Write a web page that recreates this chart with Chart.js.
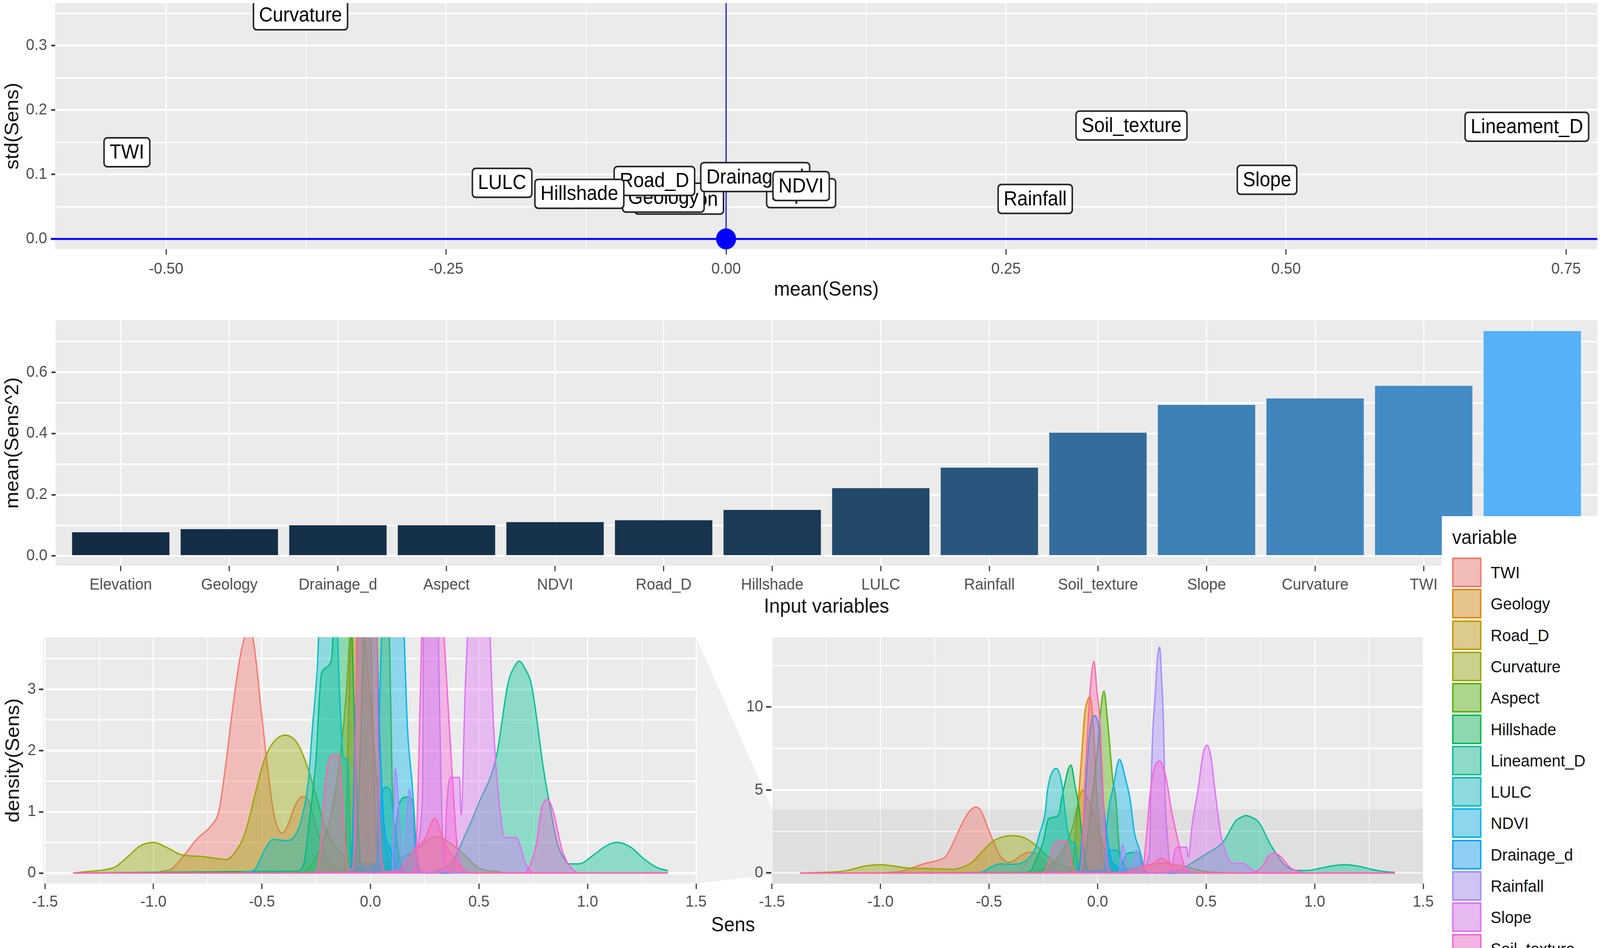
<!DOCTYPE html>
<html>
<head>
<meta charset="utf-8">
<script src="https://cdn.jsdelivr.net/npm/chart.js@4"></script>
<style>
  html, body { margin: 0; padding: 0; background: #fff; overflow: hidden; width: 100%; height: 100%; }
  #lienzo { position: absolute; left: 0; top: 0; width: 4317px; height: 2428px; overflow: hidden; transform-origin: 0 0; font-family: "Liberation Sans", Arial, sans-serif; }
  canvas { position: absolute; }
  #conector { position: absolute; left: 0; top: 0; }
  #sens { position: absolute; left: 1778px; top: 2335px; width: 400px; text-align: center; font-size: 52px; line-height: 64px; color: #111; }
  #leyenda { position: absolute; left: 3890px; top: 1322px; width: 427px; height: 1106px; background: #fff; overflow: hidden; }
  #leyenda .titulo { position: absolute; left: 28px; top: 25px; font-size: 50px; line-height: 58px; color: #111; }
  #leyenda .caja { position: absolute; left: 28px; width: 71px; height: 68px; border: 4px solid; }
  #leyenda .nombre { position: absolute; left: 132px; font-size: 43px; line-height: 50px; color: #111; white-space: nowrap; }
</style>
</head>
<body>
<div id="lienzo">
<svg id="conector" width="4317" height="2428"><polygon points="1878,1632 2081,2067 2081,2240 1878,2263" fill="#f0f0f0"/></svg>
<canvas id="grafMedia" width="4317" height="790" style="left:0;top:0"></canvas>
<canvas id="grafBarras" width="4317" height="790" style="left:0;top:800px"></canvas>
<canvas id="grafDens" width="1960" height="828" style="left:0;top:1600px"></canvas>
<canvas id="grafZoom" width="1950" height="828" style="left:1950px;top:1600px"></canvas>
<div id="sens">Sens</div>
<div id="leyenda"></div>
</div>
<script>
// La ventana puede ser mas estrecha que la imagen original: se ajusta solo en horizontal
document.querySelector('#lienzo').style.transform = `scaleX(${window.innerWidth / 4317})`;

// Panel superior: mean(Sens) contra std(Sens). El orden es el de dibujo de las etiquetas
const etiquetas = ["Curvature", "TWI", "Soil_texture", "Lineament_D", "Slope", "Rainfall", "LULC", "Elevation", "Aspect", "Geology", "Road_D", "Hillshade", "Drainage_d", "NDVI"];
const mediaSens = [-0.38, -0.535, 0.362, 0.715, 0.483, 0.276, -0.2, -0.042, 0.067, -0.056, -0.064, -0.131, 0.026, 0.067];
const stdSens = [0.347, 0.1345, 0.176, 0.174, 0.0917, 0.062, 0.087, 0.061, 0.071, 0.064, 0.09, 0.07, 0.096, 0.082];
const xMedia = [-0.5, -0.25, 0, 0.25, 0.5, 0.75];
const xMediaMenor = [-0.375, -0.125, 0.125, 0.375, 0.625];
const yMedia = [0, 0.1, 0.2, 0.3];
const yMediaMenor = [0.05, 0.15, 0.25, 0.35];

// Panel central: barras ordenadas
const barrasVariables = ["Elevation", "Geology", "Drainage_d", "Aspect", "NDVI", "Road_D", "Hillshade", "LULC", "Rainfall", "Soil_texture", "Slope", "Curvature", "TWI", "Lineament_D"];
const barrasValores = [0.077, 0.087, 0.1, 0.1, 0.11, 0.116, 0.15, 0.221, 0.288, 0.402, 0.493, 0.514, 0.555, 0.734];
const yBarras = [0, 0.2, 0.4, 0.6];
const yBarrasMenor = [0.1, 0.3, 0.5, 0.7];

// Paneles inferiores: densidades, pares [Sens, densidad]
const variables = ["TWI", "Geology", "Road_D", "Curvature", "Aspect", "Hillshade", "Lineament_D", "LULC", "NDVI", "Drainage_d", "Rainfall", "Slope", "Soil_texture", "Elevation"];
const colores = ["#F8766D", "#E38900", "#C49A00", "#99A800", "#53B400", "#00BC56", "#00C094", "#00BFC4", "#00B6EB", "#06A4FF", "#A58AFF", "#DF70F8", "#FB61D7", "#FF66A8"];

const densTWI = [[-1.37,0],[-0.99,0],[-0.96,0.03],[-0.915,0.07],[-0.861,0.28],[-0.796,0.57],[-0.73,0.79],[-0.698,1.02],[-0.665,1.82],[-0.633,2.74],[-0.6,3.54],[-0.58,3.85],[-0.565,3.96],[-0.54,3.8],[-0.502,2.61],[-0.48,1.9],[-0.448,1.02],[-0.426,0.73],[-0.408,0.65],[-0.383,0.76],[-0.35,1.08],[-0.312,1.25],[-0.285,1.18],[-0.24,0.63],[-0.2,0.23],[-0.12,0.05],[-0.05,0],[1.37,0]];
const densGeology = [[-1.37,0],[-0.14,0],[-0.12,0.1],[-0.108,1.4],[-0.095,3.47],[-0.085,5.05],[-0.073,7.15],[-0.06,9.5],[-0.047,10.37],[-0.034,10.6],[-0.017,8.2],[0,4],[0.018,1.4],[0.036,0.1],[0.06,0],[1.37,0]];
const densRoad = [[-1.37,0],[-0.32,0],[-0.26,0.2],[-0.2,0.7],[-0.15,1.6],[-0.11,3],[-0.09,4.2],[-0.07,5],[-0.05,4.6],[-0.02,3.6],[0,2.8],[0.03,1.5],[0.06,0.6],[0.1,0.15],[0.15,0],[1.37,0]];
const densCurvature = [[-1.37,0],[-1.287,0.03],[-1.23,0.05],[-1.176,0.1],[-1.12,0.26],[-1.067,0.43],[-1,0.5],[-0.937,0.415],[-0.872,0.3],[-0.774,0.27],[-0.665,0.22],[-0.62,0.36],[-0.578,0.65],[-0.535,1.24],[-0.49,1.84],[-0.448,2.13],[-0.393,2.25],[-0.339,2.13],[-0.296,1.79],[-0.263,1.42],[-0.24,1.13],[-0.21,0.76],[-0.143,0.36],[-0.08,0.2],[0.05,0.15],[0.2,0.35],[0.3,0.6],[0.4,0.4],[0.5,0.08],[0.59,0.02],[0.62,0],[1.37,0]];
const densAspect = [[-1.37,0],[-0.1,0],[-0.06,0.8],[-0.03,4],[0,7.5],[0.012,9.5],[0.029,10.95],[0.049,8.7],[0.07,5.6],[0.084,4.5],[0.1,1.47],[0.12,0.6],[0.15,0.05],[0.18,0],[1.37,0]];
const densHillshade = [[-1.37,0],[-0.339,0.03],[-0.307,0.15],[-0.285,0.76],[-0.252,1.82],[-0.225,3.27],[-0.18,3.47],[-0.165,4.5],[-0.123,6.5],[-0.104,5.26],[-0.086,4],[-0.073,2.4],[-0.06,1.05],[-0.043,0.1],[0,0.02],[0.08,0.02],[0.105,0.2],[0.13,1.1],[0.166,1.24],[0.197,1.16],[0.21,0.42],[0.227,0.05],[0.26,0],[1.37,0]];
const densLineament = [[-1.37,0],[0.26,0],[0.3,0.03],[0.38,0.2],[0.427,0.55],[0.5,1.15],[0.58,1.9],[0.634,3.1],[0.665,3.38],[0.684,3.46],[0.71,3.35],[0.743,3.05],[0.797,1.7],[0.82,1.23],[0.86,0.5],[0.895,0.22],[0.917,0.15],[0.96,0.15],[1.03,0.3],[1.08,0.43],[1.135,0.5],[1.2,0.42],[1.26,0.23],[1.32,0.09],[1.37,0.04]];
const densLULC = [[-1.37,0],[-0.6,0],[-0.578,0.02],[-0.535,0.05],[-0.49,0.36],[-0.448,0.55],[-0.393,0.53],[-0.35,0.6],[-0.317,0.89],[-0.285,1.55],[-0.268,2.35],[-0.241,3.67],[-0.23,5.05],[-0.19,6.3],[-0.165,5.4],[-0.143,3],[-0.125,1.9],[-0.104,1.8],[-0.09,0.3],[-0.06,0.1],[0.03,0.15],[0.05,1.2],[0.07,1.4],[0.09,1.35],[0.105,0.95],[0.13,0.2],[0.16,0.02],[0.2,0],[1.37,0]];
const densNDVI = [[-1.37,0],[-0.02,0],[0.03,0.2],[0.04,2.4],[0.053,4],[0.07,5.05],[0.101,6.84],[0.13,5.6],[0.149,4.5],[0.17,2.4],[0.197,1.2],[0.205,0.5],[0.22,0.05],[0.25,0],[1.37,0]];
const densDrainage = [[-1.37,0],[-0.11,0],[-0.09,0.05],[-0.073,1.9],[-0.06,4],[-0.038,8.2],[-0.017,9.47],[0.01,8.2],[0.023,5],[0.036,3],[0.06,0.9],[0.09,0.4],[0.13,0.05],[0.16,0],[1.37,0]];
const densRainfall = [[-1.37,0],[0.08,0],[0.1,0.05],[0.114,1.7],[0.135,0.8],[0.15,0.05],[0.18,1.37],[0.205,0.4],[0.24,1.26],[0.245,4.5],[0.253,8.2],[0.267,11],[0.275,12.8],[0.286,13.6],[0.294,11.9],[0.303,9.3],[0.31,5],[0.323,1.9],[0.336,0.3],[0.35,0.05],[0.38,0],[1.37,0]];
const densSlope = [[-1.37,0],[0.31,0],[0.34,0.1],[0.35,1],[0.367,1.56],[0.41,1.56],[0.418,0.95],[0.436,2.95],[0.463,5.05],[0.485,7.1],[0.504,7.7],[0.522,7],[0.54,5.05],[0.567,2.4],[0.593,1.15],[0.62,0.58],[0.67,0.58],[0.715,0.15],[0.74,0.02],[0.77,0],[1.37,0]];
const densSoil = [[-1.37,0],[0.18,0],[0.205,0.05],[0.223,1.9],[0.24,4.5],[0.258,6.1],[0.286,6.74],[0.314,5.8],[0.34,3.8],[0.375,1.7],[0.4,0.42],[0.43,0.05],[0.47,0],[0.7,0],[0.72,0.03],[0.765,0.49],[0.787,1.03],[0.815,1.2],[0.84,1.03],[0.885,0.35],[0.94,0.03],[0.97,0],[1.37,0]];
const densElevation = [[-1.37,0],[-0.27,0],[-0.243,0.05],[-0.226,0.63],[-0.208,1.47],[-0.186,1.9],[-0.147,1.93],[-0.13,1.26],[-0.117,0.42],[-0.104,0.1],[-0.09,0.05],[-0.073,0.42],[-0.069,1.9],[-0.06,5],[-0.047,8.2],[-0.034,11.05],[-0.017,12.74],[-0.003,11],[0.01,9.3],[0.023,5.6],[0.036,1.9],[0.049,0.3],[0.07,0.02],[0.13,0.05],[0.21,0.42],[0.25,0.55],[0.296,0.89],[0.34,0.5],[0.43,0.05],[0.47,0],[1.37,0]];
const densidades = [densTWI, densGeology, densRoad, densCurvature, densAspect, densHillshade, densLineament, densLULC, densNDVI, densDrainage, densRainfall, densSlope, densSoil, densElevation];

const xDens = [-1.5, -1, -0.5, 0, 0.5, 1, 1.5];
const xDensMenor = [-1.25, -0.75, -0.25, 0.25, 0.75, 1.25];
const yDens = [0, 1, 2, 3];
const yDensMenor = [0.5, 1.5, 2.5, 3.5];
const yZoom = [0, 5, 10];
const yZoomMenor = [2.5, 7.5, 12.5];
const limiteZoom = 3.85; // hasta donde llega el eje del panel izquierdo

Chart.defaults.font.family = '"Liberation Sans", Arial, sans-serif';
Chart.defaults.animation = false;
Chart.defaults.responsive = false;
Chart.defaults.devicePixelRatio = 1;
Chart.defaults.events = [];
Chart.defaults.layout.autoPadding = false; // si no, el punto azul encoge el panel
Chart.defaults.plugins.legend.display = false;
Chart.defaults.plugins.tooltip.enabled = false;

const fondoGris = {
    id: 'fondoGris',
    beforeDraw(chart) {
        const a = chart.chartArea;
        chart.ctx.fillStyle = '#ebebeb';
        chart.ctx.fillRect(a.left, a.top, a.right - a.left, a.bottom - a.top);
    }
};

// Eje con lineas mayores y menores al estilo ggplot
function ejeNumerico(o) {
    const esX = o.eje === 'x';
    const mayores = o.mayores;
    const esMayor = v => mayores.includes(v);
    return {
        type: 'linear',
        min: o.min,
        max: o.max,
        offset: false,
        afterBuildTicks(s) {
            s.ticks = mayores.concat(o.menores).sort((a, b) => a - b).map(v => ({ value: v }));
        },
        afterFit(s) {
            if (esX) s.height = o.tam; else s.width = o.tam;
            s.paddingLeft = s.paddingRight = s.paddingTop = s.paddingBottom = 0;
        },
        border: { display: false },
        grid: {
            offset: false,
            color: '#ffffff',
            lineWidth: c => c.tick && esMayor(c.tick.value) ? (esX ? 3 : 5) : (esX ? 2 : 3.5),
            tickLength: o.marca,
            tickColor: c => c.tick && esMayor(c.tick.value) ? '#333333' : 'rgba(0,0,0,0)',
            tickWidth: esX ? 3 : 4,
        },
        ticks: {
            autoSkip: false,
            maxRotation: 0,
            minRotation: 0,
            padding: o.pad,
            color: '#4d4d4d',
            font: { size: 41 },
            callback: o.texto,
        },
        title: o.titulo ? {
            display: true,
            text: o.titulo,
            color: '#111111',
            font: { size: 52 },
            padding: o.tituloPad,
        } : { display: false },
    };
}

// Etiquetas tipo geom_label
const cajasTexto = {
    id: 'cajasTexto',
    afterDatasetsDraw(chart) {
        const ctx = chart.ctx, a = chart.chartArea;
        ctx.save();
        ctx.beginPath();
        ctx.rect(a.left, a.top, a.right - a.left, a.bottom - a.top);
        ctx.clip();
        ctx.font = '51px "Liberation Sans"';
        ctx.textAlign = 'center';
        ctx.textBaseline = 'middle';
        etiquetas.forEach((t, i) => {
            const x = chart.scales.x.getPixelForValue(mediaSens[i]);
            const y = chart.scales.y.getPixelForValue(stdSens[i]);
            const w = ctx.measureText(t).width + 30;
            ctx.beginPath();
            ctx.roundRect(x - w / 2, y - 37, w, 74, 9);
            ctx.fillStyle = '#ffffff';
            ctx.fill();
            ctx.lineWidth = 4;
            ctx.strokeStyle = '#222222';
            ctx.stroke();
            ctx.fillStyle = '#000000';
            ctx.fillText(t, x, y + 2);
        });
        ctx.restore();
    }
};

new Chart(document.querySelector('#grafMedia'), {
    type: 'line',
    data: {
        datasets: [
            { data: [[0, 0]], showLine: false, pointRadius: 27, pointBackgroundColor: '#0000ff', pointBorderWidth: 0, order: 1, clip: false },
            { data: [[-0.603, 0], [0.778, 0]], borderColor: '#0000ff', borderWidth: 5, pointRadius: 0, order: 2, clip: false },
            { data: [[0, -0.0158], [0, 0.366]], borderColor: '#0000ff', borderWidth: 3, pointRadius: 0, order: 3 },
        ]
    },
    options: {
        layout: { padding: { top: 8, right: 7 } },
        scales: {
            x: ejeNumerico({ eje: 'x', min: -0.599, max: 0.778, mayores: xMedia, menores: xMediaMenor, tam: 152, marca: 14, pad: 13, titulo: 'mean(Sens)', tituloPad: { top: 0, bottom: 16 }, texto: v => xMedia.includes(v) ? v.toFixed(2) : '' }),
            y: ejeNumerico({ eje: 'y', min: -0.0158, max: 0.366, mayores: yMedia, menores: yMediaMenor, tam: 149, marca: 11, pad: 11, titulo: 'std(Sens)', tituloPad: { top: 3, bottom: 0 }, texto: v => yMedia.includes(v) ? v.toFixed(1) : '' }),
        }
    },
    plugins: [fondoGris, cajasTexto]
});

// Degradado del relleno segun el valor (de #132B43 a #56B1F7)
function colorBarra(v) {
    const t = (v - barrasValores[0]) / (barrasValores[barrasValores.length - 1] - barrasValores[0]);
    const r = Math.round(19 + (86 - 19) * t), g = Math.round(43 + (177 - 43) * t), b = Math.round(67 + (247 - 67) * t);
    return `rgb(${r},${g},${b})`;
}

new Chart(document.querySelector('#grafBarras'), {
    type: 'bar',
    data: {
        datasets: [{
            data: barrasValores.map((v, i) => ({ x: i, y: v })),
            backgroundColor: barrasValores.map(colorBarra),
            barThickness: 262,
        }]
    },
    options: {
        layout: { padding: { top: 20, right: 7 } },
        scales: {
            x: ejeNumerico({ eje: 'x', min: -0.6, max: 13.6, mayores: barrasVariables.map((n, i) => i), menores: [], tam: 141, marca: 14, pad: 11, titulo: 'Input variables', tituloPad: { top: 0, bottom: 4 }, texto: v => barrasVariables[v] }),
            y: ejeNumerico({ eje: 'y', min: -0.032, max: 0.77, mayores: yBarras, menores: yBarrasMenor, tam: 150, marca: 11, pad: 11, titulo: 'mean(Sens^2)', tituloPad: { top: 3, bottom: 0 }, texto: v => yBarras.includes(v) ? v.toFixed(1) : '' }),
        }
    },
    plugins: [fondoGris]
});

function seriesDensidad() {
    return densidades.map((d, i) => ({
        label: variables[i],
        data: d,
        borderColor: colores[i],
        backgroundColor: colores[i] + '66',
        borderWidth: 3.5,
        pointRadius: 0,
        fill: 'origin',
        cubicInterpolationMode: 'monotone',
        order: variables.length - i, // el ultimo queda encima, como en ggplot
    }));
}

const textoX = v => xDens.includes(v) ? v.toFixed(1) : '';

new Chart(document.querySelector('#grafDens'), {
    type: 'line',
    data: { datasets: seriesDensidad() },
    options: {
        layout: { padding: { top: 32, right: 82 } },
        scales: {
            x: ejeNumerico({ eje: 'x', min: -1.507, max: 1.5, mayores: xDens, menores: xDensMenor, tam: 165, marca: 14, pad: 9, texto: textoX }),
            y: ejeNumerico({ eje: 'y', min: -0.172, max: limiteZoom, mayores: yDens, menores: yDensMenor, tam: 117, marca: 12, pad: 8, titulo: 'density(Sens)', tituloPad: { top: 5, bottom: 0 }, texto: v => yDens.includes(v) ? String(v) : '' }),
        }
    },
    plugins: [fondoGris]
});

// Banda del zoom: de la parte baja del eje hasta limiteZoom
const bandaZoom = {
    id: 'bandaZoom',
    beforeDatasetsDraw(chart) {
        const a = chart.chartArea;
        const y = chart.scales.y.getPixelForValue(limiteZoom);
        chart.ctx.fillStyle = 'rgba(0,0,0,0.047)';
        chart.ctx.fillRect(a.left, y, a.right - a.left, a.bottom - y);
    }
};

new Chart(document.querySelector('#grafZoom'), {
    type: 'line',
    data: { datasets: seriesDensidad() },
    options: {
        layout: { padding: { top: 32, right: 60 } },
        scales: {
            x: ejeNumerico({ eje: 'x', min: -1.503, max: 1.5, mayores: xDens, menores: xDensMenor, tam: 165, marca: 14, pad: 9, texto: textoX }),
            y: ejeNumerico({ eje: 'y', min: -0.635, max: 14.2, mayores: yZoom, menores: yZoomMenor, tam: 131, marca: 14, pad: 8, texto: v => yZoom.includes(v) ? String(v) : '' }),
        }
    },
    plugins: [fondoGris, bandaZoom]
});

// Leyenda
const leyenda = document.querySelector('#leyenda');
leyenda.innerHTML = '<div class="titulo">variable</div>';
variables.forEach((n, i) => {
    const arriba = 106 + i * 80.3;
    const c = colores[i];
    leyenda.insertAdjacentHTML('beforeend',
        `<div class="caja" style="top:${arriba}px;border-color:${c};background:linear-gradient(${c}66,${c}66),#ebebeb"></div>` +
        `<div class="nombre" style="top:${arriba + 13}px">${n}</div>`);
});
</script>
</body>
</html>
